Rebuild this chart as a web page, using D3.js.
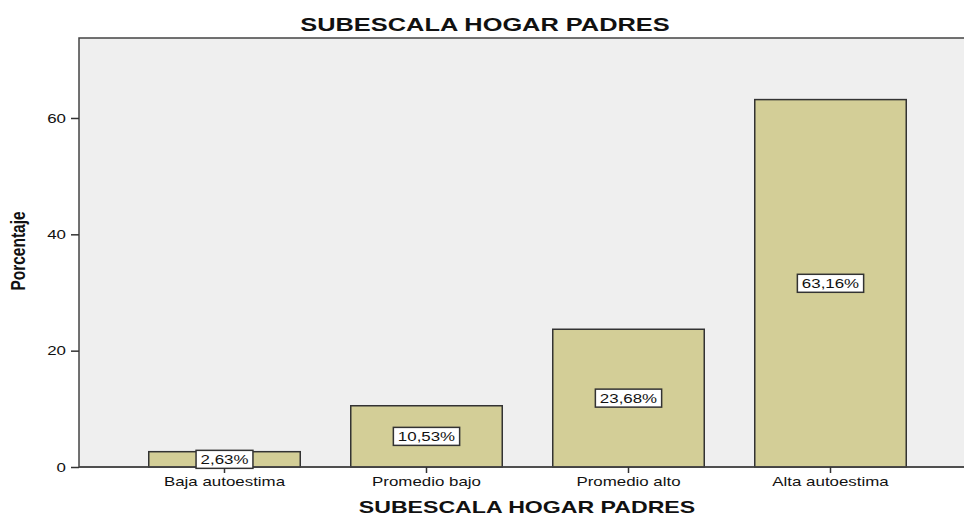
<!DOCTYPE html>
<html>
<head>
<meta charset="utf-8">
<script src="https://cdn.jsdelivr.net/npm/d3@7"></script>
<style>
  body { margin: 0; background: #fff; }
  text { font-family: "Liberation Sans", Arial, sans-serif; fill: #111; }
</style>
</head>
<body>
<script>
// chart data
var categories = ["Baja autoestima", "Promedio bajo", "Promedio alto", "Alta autoestima"];
var values = [2.63, 10.53, 23.68, 63.16];
var valueLabels = ["2,63%", "10,53%", "23,68%", "63,16%"];
var yTicks = [0, 20, 40, 60];
var title = "SUBESCALA HOGAR PADRES";
var xTitle = "SUBESCALA HOGAR PADRES";
var yTitle = "Porcentaje";

var W = 964, H = 515;
var plot = {left: 79, top: 38, right: 970, bottom: 467};
var sx = 1.3; // the source image is stretched horizontally

var svg = d3.select("body").append("svg")
    .attr("width", W)
    .attr("height", H);

// plot background + frame
svg.append("rect")
    .attr("x", plot.left).attr("y", plot.top)
    .attr("width", plot.right - plot.left)
    .attr("height", plot.bottom - plot.top)
    .attr("fill", "#efefef")
    .attr("stroke", "#444")
    .attr("stroke-width", 1.5);

var x = d3.scaleBand()
    .domain(categories)
    .range([123.5, 931.5])
    .paddingInner(0.25)
    .paddingOuter(0.125);

var y = d3.scaleLinear()
    .domain([0, 73.75])
    .range([plot.bottom, plot.top]);

// bars
svg.selectAll(".bar")
    .data(values)
  .enter().append("rect")
    .attr("class", "bar")
    .attr("x", function(d, i) { return x(categories[i]); })
    .attr("width", x.bandwidth())
    .attr("y", function(d) { return y(d); })
    .attr("height", function(d) { return y(0) - y(d); })
    .attr("fill", "#d3ce97")
    .attr("stroke", "#333")
    .attr("stroke-width", 1.5);

// y axis
var yAxis = svg.append("g")
    .attr("transform", "translate(" + plot.left + ",0)")
    .call(d3.axisLeft(y).tickValues(yTicks).tickSize(8).tickPadding(4));
yAxis.select(".domain").remove();
yAxis.selectAll("line").attr("stroke", "#333").attr("stroke-width", 1.5);
yAxis.selectAll("text")
    .attr("x", -13 / sx)
    .attr("transform", "scale(" + sx + ",1)")
    .style("font-size", "13px")
    .attr("fill", "#111");

// x axis
var xAxis = svg.append("g")
    .attr("transform", "translate(0," + plot.bottom + ")")
    .call(d3.axisBottom(x).tickSize(6).tickPadding(6));
xAxis.select(".domain").attr("stroke", "#444").attr("stroke-width", 1.5)
    .attr("d", "M" + plot.left + ",0H" + plot.right);
xAxis.selectAll("line").attr("stroke", "#333").attr("stroke-width", 1.5);
xAxis.selectAll("text")
    .attr("y", 0).attr("dy", null)
    .attr("transform", "translate(0,19) scale(" + sx + ",1)")
    .style("font-size", "13px")
    .attr("fill", "#111");

// value labels
var lab = svg.selectAll(".vlab")
    .data(values)
  .enter().append("g")
    .attr("class", "vlab")
    .attr("transform", function(d, i) {
      return "translate(" + (x(categories[i]) + x.bandwidth() / 2) + "," + y(d / 2) + ")";
    });
lab.append("text")
    .attr("text-anchor", "middle")
    .attr("dy", "0.36em")
    .attr("transform", "scale(" + sx + ",1)")
    .style("font-size", "13px")
    .text(function(d, i) { return valueLabels[i]; });
lab.insert("rect", "text")
    .each(function() {
      var t = this.parentNode.querySelector("text").getBBox();
      var w = t.width * sx + 9;
      d3.select(this)
        .attr("x", -w / 2).attr("y", -9)
        .attr("width", w).attr("height", 18)
        .attr("fill", "#fff")
        .attr("stroke", "#333")
        .attr("stroke-width", 1.5);
    });

// titles
svg.append("text")
    .attr("transform", "translate(485,30.5) scale(1.41,1)")
    .attr("text-anchor", "middle")
    .style("font-size", "18px")
    .style("font-weight", "bold")
    .text(title);

svg.append("text")
    .attr("transform", "translate(527,513) scale(1.36,1)")
    .attr("text-anchor", "middle")
    .style("font-size", "17px")
    .style("font-weight", "bold")
    .text(xTitle);

svg.append("text")
    .attr("transform", "translate(25,251) scale(1.3,1) rotate(-90)")
    .attr("text-anchor", "middle")
    .style("font-size", "15.5px")
    .style("font-weight", "bold")
    .text(yTitle);
</script>
</body>
</html>
